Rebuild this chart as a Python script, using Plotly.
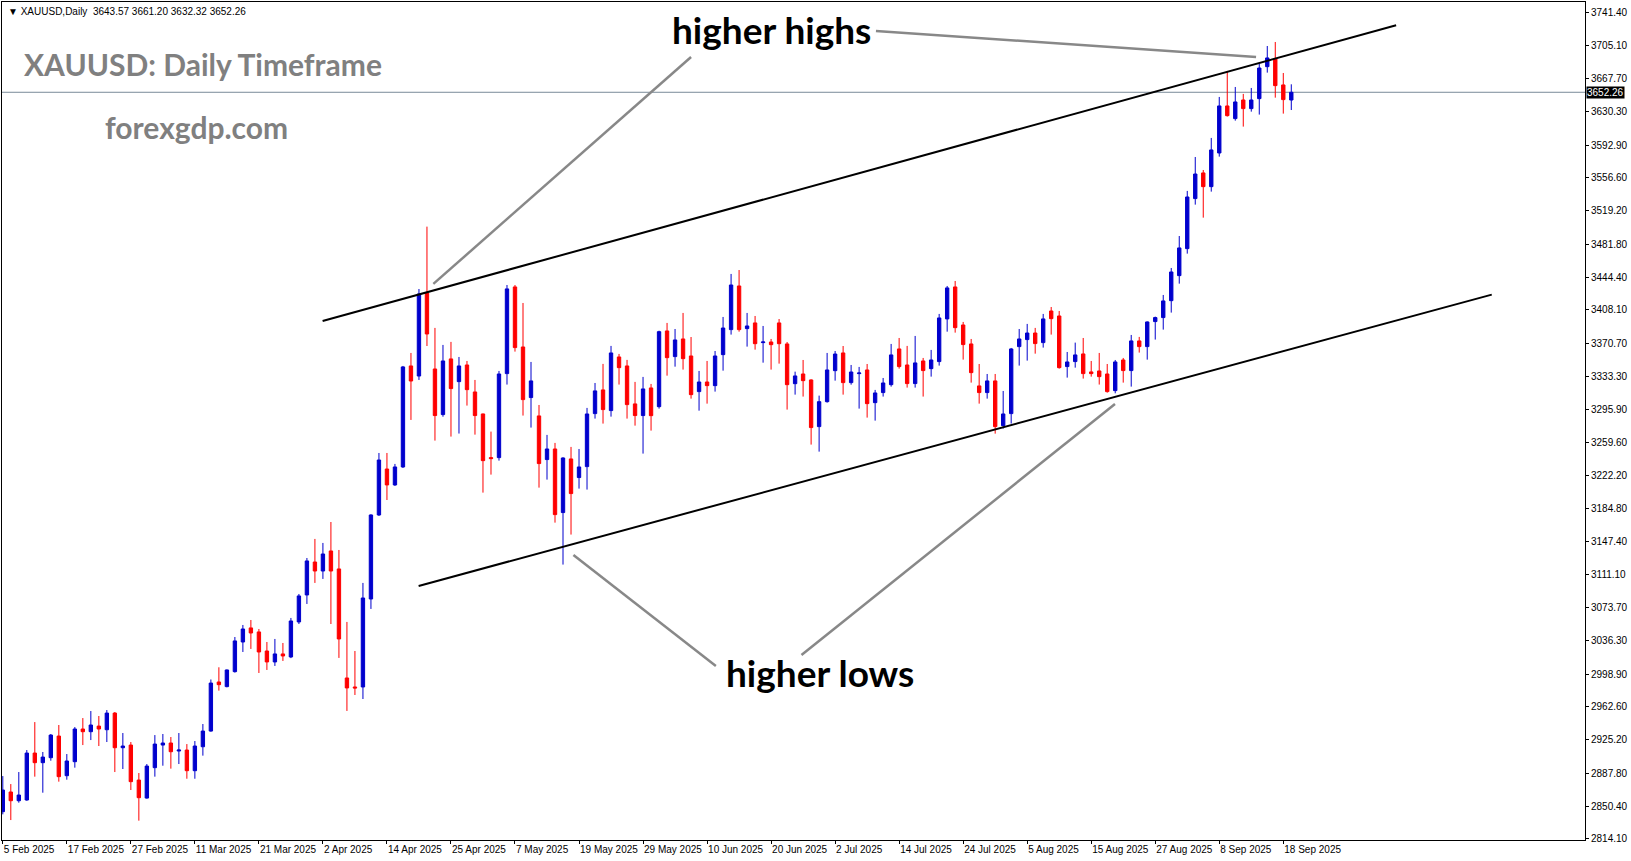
import pandas as pd
import plotly.graph_objects as go

# ---------------- data ----------------
holidays = ["2025-04-18"]
dates = [d for d in pd.bdate_range("2025-02-05", "2025-09-19") if d.strftime("%Y-%m-%d") not in holidays]
categories = [d.strftime("%Y-%m-%d") for d in dates]

opens = [2844.6, 2866.7, 2856.9, 2857.7, 2910.4, 2899.6, 2905.2, 2929.5, 2885.0, 2900.7,
         2937.4, 2934.4, 2940.7, 2936.6, 2955.3, 2916.4, 2919.4, 2880.1, 2859.9, 2894.0,
         2919.4, 2921.7, 2912.7, 2913.8, 2890.6, 2917.5, 2935.1, 2990.2, 2985.0, 3001.8,
         3035.1, 3050.9, 3046.4, 3025.0, 3012.7, 3021.7, 3018.3, 3057.6, 3087.9, 3124.9,
         3114.8, 3137.3, 3117.1, 2994.7, 2984.6, 2984.6, 3083.4, 3177.7, 3229.3, 3211.4,
         3231.6, 3345.0, 3333.7, 3426.9, 3341.6, 3290.4, 3352.9, 3327.4, 3346.1, 3315.8,
         3291.1, 3242.1, 3242.1, 3336.4, 3433.7, 3366.3, 3309.5, 3288.9, 3239.9, 3251.8,
         3180.4, 3240.6, 3219.7, 3232.0, 3291.5, 3318.1, 3294.9, 3355.1, 3345.0, 3302.4,
         3289.3, 3320.3, 3299.3, 3384.3, 3355.5, 3375.3, 3356.2, 3316.2, 3327.0, 3322.9,
         3357.7, 3385.8, 3434.8, 3386.9, 3393.3, 3371.2, 3371.9, 3393.3, 3369.7, 3325.1,
         3336.0, 3329.3, 3276.9, 3304.9, 3339.7, 3359.6, 3326.3, 3336.4, 3340.5, 3303.8,
         3315.1, 3324.0, 3364.1, 3346.1, 3325.2, 3350.6, 3342.0, 3349.9, 3397.8, 3433.7,
         3391.0, 3369.7, 3322.6, 3315.1, 3328.2, 3278.0, 3291.5, 3366.7, 3374.6, 3382.0,
         3371.2, 3406.7, 3401.1, 3344.3, 3349.9, 3358.5, 3338.3, 3339.4, 3336.0, 3317.3,
         3351.7, 3339.8, 3373.1, 3366.7, 3394.8, 3399.3, 3418.3, 3446.4, 3476.7, 3532.9,
         3561.7, 3546.3, 3584.1, 3636.9, 3622.7, 3643.6, 3633.9, 3645.1, 3681.0, 3689.6,
         3660.5, 3643.57]
highs = [2884.6, 2875.6, 2889.1, 2913.8, 2945.2, 2911.6, 2931.8, 2941.9, 2909.3, 2939.6,
         2949.7, 2957.6, 2952.0, 2958.7, 2956.5, 2932.9, 2922.8, 2888.0, 2898.1, 2930.6,
         2931.8, 2928.4, 2932.9, 2920.5, 2923.9, 2943.0, 2993.0, 3006.7, 3004.2, 3040.7,
         3054.2, 3059.8, 3049.7, 3035.1, 3038.5, 3034.0, 3062.1, 3089.0, 3129.4, 3150.8,
         3146.3, 3169.8, 3138.4, 3057.6, 3025.0, 3101.4, 3178.5, 3247.3, 3247.3, 3235.0,
         3345.0, 3359.6, 3431.4, 3501.4, 3387.7, 3368.6, 3372.0, 3355.1, 3350.6, 3329.3,
         3291.5, 3271.3, 3339.4, 3435.9, 3435.9, 3415.7, 3349.5, 3301.2, 3267.6, 3258.6,
         3242.5, 3254.1, 3251.8, 3297.9, 3325.9, 3347.3, 3367.5, 3358.5, 3351.8, 3327.1,
         3332.7, 3324.8, 3384.6, 3393.3, 3386.5, 3404.5, 3377.5, 3339.4, 3350.6, 3361.8,
         3400.0, 3448.3, 3452.7, 3404.5, 3401.1, 3389.9, 3375.3, 3397.7, 3371.9, 3338.6,
         3351.7, 3330.0, 3311.7, 3359.6, 3361.8, 3367.4, 3346.1, 3343.9, 3347.2, 3318.1,
         3331.5, 3369.7, 3376.4, 3367.5, 3378.7, 3354.0, 3363.0, 3403.4, 3434.8, 3440.4,
         3394.4, 3375.3, 3347.2, 3336.0, 3336.0, 3316.9, 3365.2, 3386.5, 3392.2, 3387.7,
         3403.4, 3411.2, 3406.7, 3360.7, 3371.2, 3376.4, 3350.6, 3359.6, 3347.2, 3351.7,
         3354.0, 3379.8, 3377.6, 3395.0, 3400.4, 3424.7, 3455.0, 3490.9, 3541.5, 3579.6,
         3565.0, 3601.0, 3647.0, 3676.2, 3658.2, 3650.4, 3657.1, 3684.0, 3704.2, 3708.7,
         3673.9, 3661.20]
lows = [2841.6, 2835.2, 2854.7, 2856.9, 2883.9, 2865.9, 2901.8, 2878.3, 2880.5, 2894.0,
        2919.4, 2925.0, 2918.3, 2922.8, 2889.1, 2892.5, 2868.9, 2834.5, 2859.2, 2883.9,
        2896.2, 2892.9, 2898.1, 2881.6, 2881.6, 2907.5, 2934.4, 2980.5, 2984.2, 3000.7,
        3023.9, 3027.3, 3000.3, 3003.7, 3008.2, 3013.8, 3017.0, 3055.3, 3077.8, 3101.4,
        3105.9, 3055.3, 3017.2, 2957.7, 2975.6, 2971.1, 3072.2, 3176.6, 3194.5, 3210.3,
        3230.5, 3284.4, 3329.3, 3367.4, 3261.2, 3288.0, 3265.7, 3269.1, 3300.5, 3267.9,
        3202.8, 3223.0, 3238.7, 3324.1, 3361.1, 3289.3, 3275.8, 3208.4, 3217.4, 3169.1,
        3122.0, 3155.7, 3207.3, 3206.2, 3285.9, 3280.3, 3288.1, 3324.1, 3285.9, 3278.0,
        3246.6, 3272.4, 3297.1, 3334.1, 3344.2, 3340.9, 3308.3, 3294.8, 3302.7, 3316.2,
        3339.7, 3380.2, 3383.5, 3366.7, 3363.3, 3348.7, 3340.9, 3347.6, 3296.0, 3312.8,
        3310.6, 3256.7, 3248.8, 3303.8, 3328.5, 3312.8, 3324.0, 3297.1, 3287.0, 3283.6,
        3310.6, 3321.8, 3342.0, 3320.7, 3320.7, 3310.6, 3333.0, 3345.4, 3383.5, 3382.4,
        3352.1, 3326.3, 3302.7, 3308.3, 3269.0, 3274.7, 3280.3, 3345.4, 3351.0, 3358.8,
        3365.6, 3380.2, 3342.0, 3331.9, 3343.1, 3330.8, 3333.0, 3324.1, 3315.0, 3314.3,
        3326.3, 3321.8, 3360.0, 3352.1, 3374.6, 3385.8, 3404.9, 3437.4, 3471.1, 3526.1,
        3511.5, 3540.7, 3580.0, 3625.0, 3620.4, 3613.7, 3630.5, 3627.2, 3674.3, 3646.2,
        3628.3, 3632.32]
closes = [2868.9, 2856.9, 2863.3, 2910.4, 2899.6, 2905.9, 2930.6, 2883.9, 2901.5, 2937.4,
          2934.4, 2941.9, 2937.4, 2955.3, 2916.4, 2918.3, 2878.3, 2860.3, 2895.8, 2920.5,
          2921.7, 2911.9, 2913.8, 2890.6, 2918.3, 2935.1, 2989.0, 2987.2, 3003.7, 3036.3,
          3049.7, 3045.2, 3023.9, 3012.7, 3021.7, 3019.4, 3058.7, 3086.8, 3126.1, 3114.8,
          3133.9, 3114.8, 3038.5, 2983.5, 2983.5, 3084.5, 3177.7, 3239.4, 3211.4, 3231.6,
          3343.9, 3328.1, 3425.8, 3380.9, 3289.3, 3350.6, 3319.6, 3345.0, 3318.4, 3289.3,
          3238.7, 3241.0, 3336.0, 3431.5, 3365.6, 3307.2, 3328.2, 3235.4, 3251.8, 3178.1,
          3241.7, 3201.7, 3231.6, 3291.1, 3317.0, 3296.0, 3359.6, 3343.1, 3301.6, 3289.3,
          3319.2, 3289.2, 3383.5, 3354.3, 3374.2, 3353.2, 3312.8, 3327.0, 3322.9, 3356.2,
          3387.6, 3435.9, 3385.8, 3389.9, 3370.0, 3371.9, 3368.9, 3370.0, 3324.0, 3333.8,
          3328.5, 3275.8, 3304.9, 3340.5, 3358.4, 3326.3, 3338.2, 3337.1, 3302.7, 3314.7,
          3325.9, 3357.4, 3344.3, 3325.2, 3348.4, 3339.8, 3351.7, 3398.9, 3432.6, 3388.0,
          3369.0, 3337.5, 3315.1, 3328.2, 3276.9, 3291.1, 3364.1, 3375.3, 3382.0, 3370.1,
          3397.8, 3398.1, 3343.1, 3349.5, 3357.4, 3336.4, 3336.4, 3333.0, 3316.2, 3349.5,
          3339.8, 3373.1, 3366.7, 3394.4, 3399.3, 3418.0, 3450.5, 3477.5, 3534.7, 3560.5,
          3546.3, 3587.5, 3636.9, 3626.0, 3641.4, 3633.9, 3643.6, 3679.5, 3690.8, 3659.7,
          3644.0, 3652.26]

# price-axis tick labels (MT4 style) and date labels every 8 bars
y_ticks = [3741.40, 3705.10, 3667.70, 3630.30, 3592.90, 3556.60, 3519.20, 3481.80, 3444.40,
           3408.10, 3370.70, 3333.30, 3295.90, 3259.60, 3222.20, 3184.80, 3147.40, 3111.10,
           3073.70, 3036.30, 2998.90, 2962.60, 2925.20, 2887.80, 2850.40, 2814.10]
x_tick_step = 8
x_tickvals = categories[::x_tick_step]
x_ticktext = [f"{d.day} {d.strftime('%b %Y')}" for d in dates[::x_tick_step]]

last_price = 3652.26
header = "▼ XAUUSD,Daily  3643.57 3661.20 3632.32 3652.26"

# analyst drawings: (bar index, price)
upper_channel = [(39.96, 3395.5), (174.1, 3727.5)]
lower_channel = [(51.96, 3098.0), (186.05, 3425.1)]
callouts = [
    [(109.1, 3721.1), (156.6, 3691.9)],
    [(86.0, 3691.9), (53.8, 3437.1)],
    [(89.1, 3008.2), (71.3, 3132.8)],
    [(99.8, 3020.4), (138.97, 3302.4)],
]
label_hh = (96.0, 3722.5)
label_hl = (102.1, 3000.5)

# ---------------- figure ----------------
BULL = "#0000CD"
BEAR = "#FF0000"
AXFONT = dict(family="Liberation Sans, Arial, sans-serif", size=10, color="black")

fig = go.Figure(go.Candlestick(
    x=categories, open=opens, high=highs, low=lows, close=closes,
    increasing=dict(line=dict(color=BULL, width=1), fillcolor=BULL),
    decreasing=dict(line=dict(color=BEAR, width=1), fillcolor=BEAR),
    whiskerwidth=0, hoverinfo="skip", showlegend=False,
))

shapes = [dict(type="line", xref="paper", yref="y", x0=0, x1=1, y0=last_price, y1=last_price,
               line=dict(color="#7A8A99", width=1), layer="below")]
for (a, b) in [upper_channel, lower_channel]:
    shapes.append(dict(type="line", xref="x", yref="y", x0=a[0], y0=a[1], x1=b[0], y1=b[1],
                       line=dict(color="black", width=2)))
for (a, b) in callouts:
    shapes.append(dict(type="line", xref="x", yref="y", x0=a[0], y0=a[1], x1=b[0], y1=b[1],
                       line=dict(color="#888888", width=2.5)))

BIG = "Lato, 'Open Sans', sans-serif"
annotations = [
    dict(xref="paper", yref="paper", x=0.0025, y=0.989, xanchor="left", yanchor="middle",
         text=header, showarrow=False, font=dict(family="Liberation Sans, Arial", size=10, color="black")),
    dict(xref="paper", yref="paper", x=0.0125, y=0.9255, xanchor="left", yanchor="middle",
         text="<b>XAUUSD: Daily Timeframe</b>", showarrow=False,
         font=dict(family=BIG, size=30, color="#808080")),
    dict(xref="paper", yref="paper", x=0.0635, y=0.851, xanchor="left", yanchor="middle",
         text="<b>forexgdp.com</b>", showarrow=False,
         font=dict(family=BIG, size=30, color="#808080")),
    dict(xref="x", yref="y", x=label_hh[0], y=label_hh[1], xanchor="center", yanchor="middle",
         text="<b>higher highs</b>", showarrow=False,
         font=dict(family=BIG, size=37, color="black")),
    dict(xref="x", yref="y", x=label_hl[0], y=label_hl[1], xanchor="center", yanchor="middle",
         text="<b>higher lows</b>", showarrow=False,
         font=dict(family=BIG, size=37, color="black")),
    dict(xref="paper", yref="y", x=1, y=last_price, xanchor="left", yanchor="middle", xshift=1,
         text=f"{last_price:.2f}", showarrow=False, bgcolor="black", borderpad=0,
         font=dict(family="Liberation Sans, Arial", size=10, color="white")),
]

fig.update_layout(
    width=1631, height=861,
    margin=dict(l=2, r=46, t=2, b=21),
    paper_bgcolor="white", plot_bgcolor="white",
    boxgap=0.4,
    shapes=shapes, annotations=annotations,
    showlegend=False,
    xaxis=dict(type="category", range=[-0.1, 197.7], rangeslider=dict(visible=False),
               tickmode="array", tickvals=x_tickvals, ticktext=x_ticktext,
               ticks="outside", ticklen=3, tickcolor="black", tickwidth=1,
               ticklabelposition="outside right", tickangle=0,
               showline=True, linecolor="black", linewidth=1, mirror=True,
               showgrid=False, zeroline=False, tickfont=AXFONT, fixedrange=True),
    yaxis=dict(side="right", range=[2812.8, 3753.6],
               tickmode="array", tickvals=y_ticks, ticktext=[f"{v:.2f}" for v in y_ticks],
               ticks="outside", ticklen=3, tickcolor="black", tickwidth=1,
               showline=True, linecolor="black", linewidth=1, mirror=True,
               showgrid=False, zeroline=False, tickfont=AXFONT, fixedrange=True),
)

fig.write_html("out.html", config={"displayModeBar": False},
               post_script="document.body.style.margin='0';document.body.style.overflow='hidden';")
